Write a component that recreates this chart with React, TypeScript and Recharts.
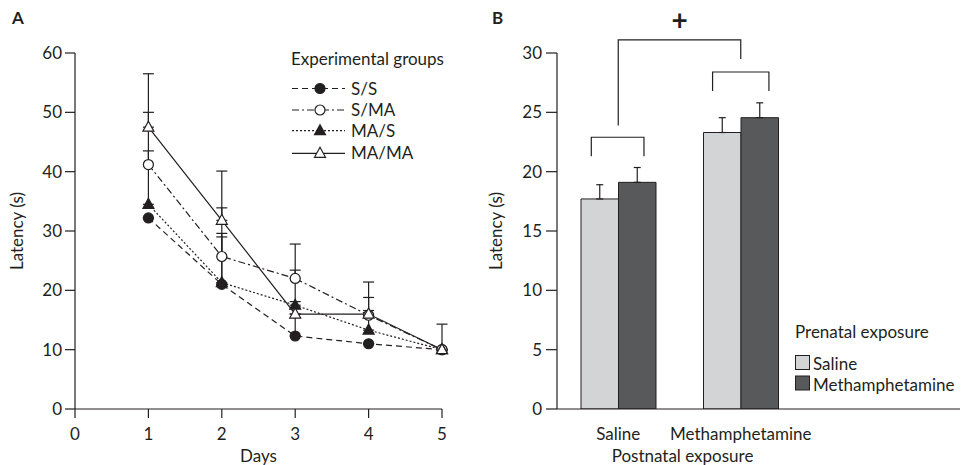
import React from "react";
import {
  LineChart,
  Line,
  XAxis,
  YAxis,
  ErrorBar,
  Legend,
  BarChart,
  Bar,
} from "recharts";

// ---- panel A: latency per day, four groups
const days = [1, 2, 3, 4, 5];
const dayTicks = [0, 1, 2, 3, 4, 5];
const latencyTicksA = [0, 10, 20, 30, 40, 50, 60];

const ssLatency = [32.2, 21.0, 12.3, 11.0, 10.0];
const ssError = [0, 8.6, 3.7, 0, 0];
const smaLatency = [41.2, 25.7, 22.0, 15.8, 10.0];
const smaError = [8.8, 8.2, 1.4, 3.0, 0];
const masLatency = [34.5, 21.3, 17.5, 13.3, 10.0];
const masError = [9.0, 7.7, 0.6, 3.3, 0];
const mamaLatency = [47.5, 31.8, 16.0, 16.0, 10.0];
const mamaError = [9.0, 8.3, 11.8, 5.4, 4.3];

// ---- panel B: latency by postnatal / prenatal exposure
const postnatal = ["Saline", "Methamphetamine"];
const prenatalSaline = [17.7, 23.3];
const prenatalSalineError = [1.2, 1.25];
const prenatalMeth = [19.1, 24.55];
const prenatalMethError = [1.25, 1.25];
const latencyTicksB = [0, 5, 10, 15, 20, 25, 30];

// significance brackets: x in group units (0..2 across both groups), y in seconds
const brackets = [
  { x1: 0.28, x2: 0.71, top: 22.9, left: 21.3, right: 21.3 },
  { x1: 1.27, x2: 1.73, top: 28.4, left: 26.8, right: 26.8 },
  { x1: 0.5, x2: 1.5, top: 31.1, left: 23.9, right: 29.5 },
];
const plusMark = { x: 1, y: 32.9 };

const ink = "#231f20";
const font = "Lato, 'Open Sans', sans-serif";
const lightFill = "#d3d4d6";
const darkFill = "#58595b";
const fs = 17;

// panel B layout
const leftB = 480;
const widthB = 483;
const heightB = 465;
const topB = 53;
const xAxisHeightB = 56;
const yAxisWidthB = 77;
const rightMarginB = 3;
const emptyRight = 158;
const plotWidthB = widthB - yAxisWidthB - rightMarginB;
const yMaxB = 30;
const plotBottomB = heightB - xAxisHeightB;
const toPxY = (v: number) => plotBottomB - (v / yMaxB) * (plotBottomB - topB);
const toPxX = (u: number) => leftB + yAxisWidthB + (u * (plotWidthB - emptyRight)) / 2;

const lineData = days.map((d, i) => ({
  day: d,
  ss: ssLatency[i],
  ssErr: [0, ssError[i]],
  sma: smaLatency[i],
  smaErr: [0, smaError[i]],
  mas: masLatency[i],
  masErr: [0, masError[i]],
  mama: mamaLatency[i],
  mamaErr: [0, mamaError[i]],
}));

const barData = postnatal.map((g, i) => ({
  group: g,
  saline: prenatalSaline[i],
  salineErr: [0, prenatalSalineError[i]],
  meth: prenatalMeth[i],
  methErr: [0, prenatalMethError[i]],
}));

type Series = { key: string; name: string; dash?: string; shape: "circle" | "triangle"; filled: boolean };

const series: Series[] = [
  { key: "ss", name: "S/S", dash: "6 4", shape: "circle", filled: true },
  { key: "sma", name: "S/MA", dash: "7 3 2 3", shape: "circle", filled: false },
  { key: "mas", name: "MA/S", dash: "2 2", shape: "triangle", filled: true },
  { key: "mama", name: "MA/MA", shape: "triangle", filled: false },
];

function Marker({ cx, cy, s }: { cx: number; cy: number; s: Series }) {
  const fill = s.filled ? ink : "#fff";
  if (s.shape === "circle") {
    return <circle cx={cx} cy={cy} r={5} fill={fill} stroke={ink} strokeWidth={1.2} />;
  }
  return (
    <polygon
      points={`${cx},${cy - 6} ${cx + 5.5},${cy + 4} ${cx - 5.5},${cy + 4}`}
      fill={fill}
      stroke={ink}
      strokeWidth={1.2}
    />
  );
}

const legendRowsA = [43.5, 65, 85.7, 108.3];

function LegendA() {
  return (
    <svg width={175} height={120} style={{ overflow: "visible" }}>
      <text x={1} y={20} fontSize={fs} fill={ink} fontFamily={font}>
        Experimental groups
      </text>
      {series.map((s, i) => {
        const y = legendRowsA[i];
        return (
          <g key={s.key}>
            <line x1={2} x2={55} y1={y} y2={y} stroke={ink} strokeWidth={1.2} strokeDasharray={s.dash} />
            <Marker cx={30} cy={y} s={s} />
            <text x={61} y={y + 6} fontSize={fs} fill={ink} fontFamily={font}>
              {s.name}
            </text>
          </g>
        );
      })}
    </svg>
  );
}

function LegendB() {
  const items = [
    { name: "Saline", fill: lightFill },
    { name: "Methamphetamine", fill: darkFill },
  ];
  return (
    <svg width={175} height={80} style={{ overflow: "visible" }}>
      <text x={1} y={18} fontSize={fs} fill={ink} fontFamily={font}>
        Prenatal exposure
      </text>
      {items.map((it, i) => (
        <g key={it.name}>
          <rect x={1.5} y={35.5 + i * 20.5} width={14} height={14} fill={it.fill} stroke={ink} strokeWidth={1} />
          <text x={19} y={50 + i * 20.5} fontSize={fs} fill={ink} fontFamily={font}>
            {it.name}
          </text>
        </g>
      ))}
    </svg>
  );
}

function Brackets() {
  return (
    <svg width={963} height={465} style={{ position: "absolute", left: 0, top: 0, pointerEvents: "none" }}>
      {brackets.map((b, i) => (
        <polyline
          key={i}
          points={`${toPxX(b.x1)},${toPxY(b.left)} ${toPxX(b.x1)},${toPxY(b.top)} ${toPxX(b.x2)},${toPxY(b.top)} ${toPxX(b.x2)},${toPxY(b.right)}`}
          fill="none"
          stroke={ink}
          strokeWidth={1.2}
        />
      ))}
      <text
        x={toPxX(plusMark.x)}
        y={toPxY(plusMark.y)}
        textAnchor="middle"
        dominantBaseline="central"
        fontSize={28}
        fontWeight={700}
        fill={ink}
        fontFamily={font}
      >
        +
      </text>
    </svg>
  );
}

const tickStyle = { fontSize: fs, fill: ink, fontFamily: font };
const axisLine = { stroke: ink, strokeWidth: 1.2 };

export default function App() {
  return (
    <div
      style={{
        position: "absolute",
        left: 0,
        top: 0,
        width: 963,
        height: 465,
        background: "#fff",
        fontFamily: font,
        overflow: "hidden",
      }}
    >
      <div style={{ position: "absolute", left: 12, top: 7, fontWeight: 700, fontSize: 17, color: ink }}>A</div>
      <div style={{ position: "absolute", left: 492, top: 7, fontWeight: 700, fontSize: 17, color: ink }}>B</div>

      <div style={{ position: "absolute", left: 0, top: 0 }}>
        <LineChart width={480} height={465} data={lineData} margin={{ top: 53, right: 38, bottom: 0, left: 0 }}>
          <XAxis
            dataKey="day"
            type="number"
            domain={[0, 5]}
            ticks={dayTicks}
            height={56}
            tick={tickStyle}
            tickSize={9}
            tickMargin={10}
            axisLine={axisLine}
            tickLine={axisLine}
            label={{ value: "Days", position: "insideBottom", offset: 3, fontSize: fs, fill: ink }}
          />
          <YAxis
            type="number"
            domain={[0, 60]}
            ticks={latencyTicksA}
            allowDataOverflow
            width={75}
            tick={tickStyle}
            tickSize={10}
            tickMargin={3}
            axisLine={axisLine}
            tickLine={axisLine}
            label={{
              value: "Latency (s)",
              angle: -90,
              position: "insideLeft",
              offset: 17,
              fontSize: fs,
              fill: ink,
              style: { textAnchor: "middle" },
            }}
          />
          {series.map((s) => (
            <Line
              key={s.key}
              dataKey={s.key}
              name={s.name}
              type="linear"
              stroke={ink}
              strokeWidth={1.2}
              strokeDasharray={s.dash}
              isAnimationActive={false}
              dot={(p: any) => <Marker key={`${s.key}-${p.index}`} cx={p.cx} cy={p.cy} s={s} />}
              activeDot={false}
            >
              <ErrorBar dataKey={`${s.key}Err`} width={5.5} stroke={ink} strokeWidth={1.2} direction="y" />
            </Line>
          ))}
          <Legend
            layout="vertical"
            align="center"
            verticalAlign="middle"
            wrapperStyle={{ left: 290, top: 45, width: 175 }}
            content={() => <LegendA />}
          />
        </LineChart>
      </div>

      <div style={{ position: "absolute", left: leftB, top: 0 }}>
        <BarChart
          width={widthB}
          height={heightB}
          data={barData}
          margin={{ top: topB, right: rightMarginB, bottom: 0, left: 0 }}
          barGap={0}
        >
          <XAxis
            dataKey="group"
            height={xAxisHeightB}
            padding={{ left: 0, right: emptyRight }}
            tick={tickStyle}
            tickSize={9}
            tickMargin={10}
            tickLine={false}
            axisLine={axisLine}
            label={{ value: "Postnatal exposure", position: "insideBottom", offset: 3, dx: -76, fontSize: fs, fill: ink }}
          />
          <YAxis
            type="number"
            domain={[0, yMaxB]}
            ticks={latencyTicksB}
            allowDataOverflow
            width={yAxisWidthB}
            tick={tickStyle}
            tickSize={11}
            tickMargin={4}
            axisLine={axisLine}
            tickLine={axisLine}
            label={{
              value: "Latency (s)",
              angle: -90,
              position: "insideLeft",
              offset: 16,
              fontSize: fs,
              fill: ink,
              style: { textAnchor: "middle" },
            }}
          />
          <Bar dataKey="saline" name="Saline" fill={lightFill} stroke={ink} strokeWidth={1} barSize={37.5} isAnimationActive={false}>
            <ErrorBar dataKey="salineErr" width={3.5} stroke={ink} strokeWidth={1.2} direction="y" />
          </Bar>
          <Bar dataKey="meth" name="Methamphetamine" fill={darkFill} stroke={ink} strokeWidth={1} barSize={37.5} isAnimationActive={false}>
            <ErrorBar dataKey="methErr" width={3.5} stroke={ink} strokeWidth={1.2} direction="y" />
          </Bar>
          <Legend
            layout="vertical"
            align="center"
            verticalAlign="middle"
            wrapperStyle={{ left: 314, top: 320, width: 175 }}
            content={() => <LegendB />}
          />
        </BarChart>
      </div>

      <Brackets />
    </div>
  );
}
